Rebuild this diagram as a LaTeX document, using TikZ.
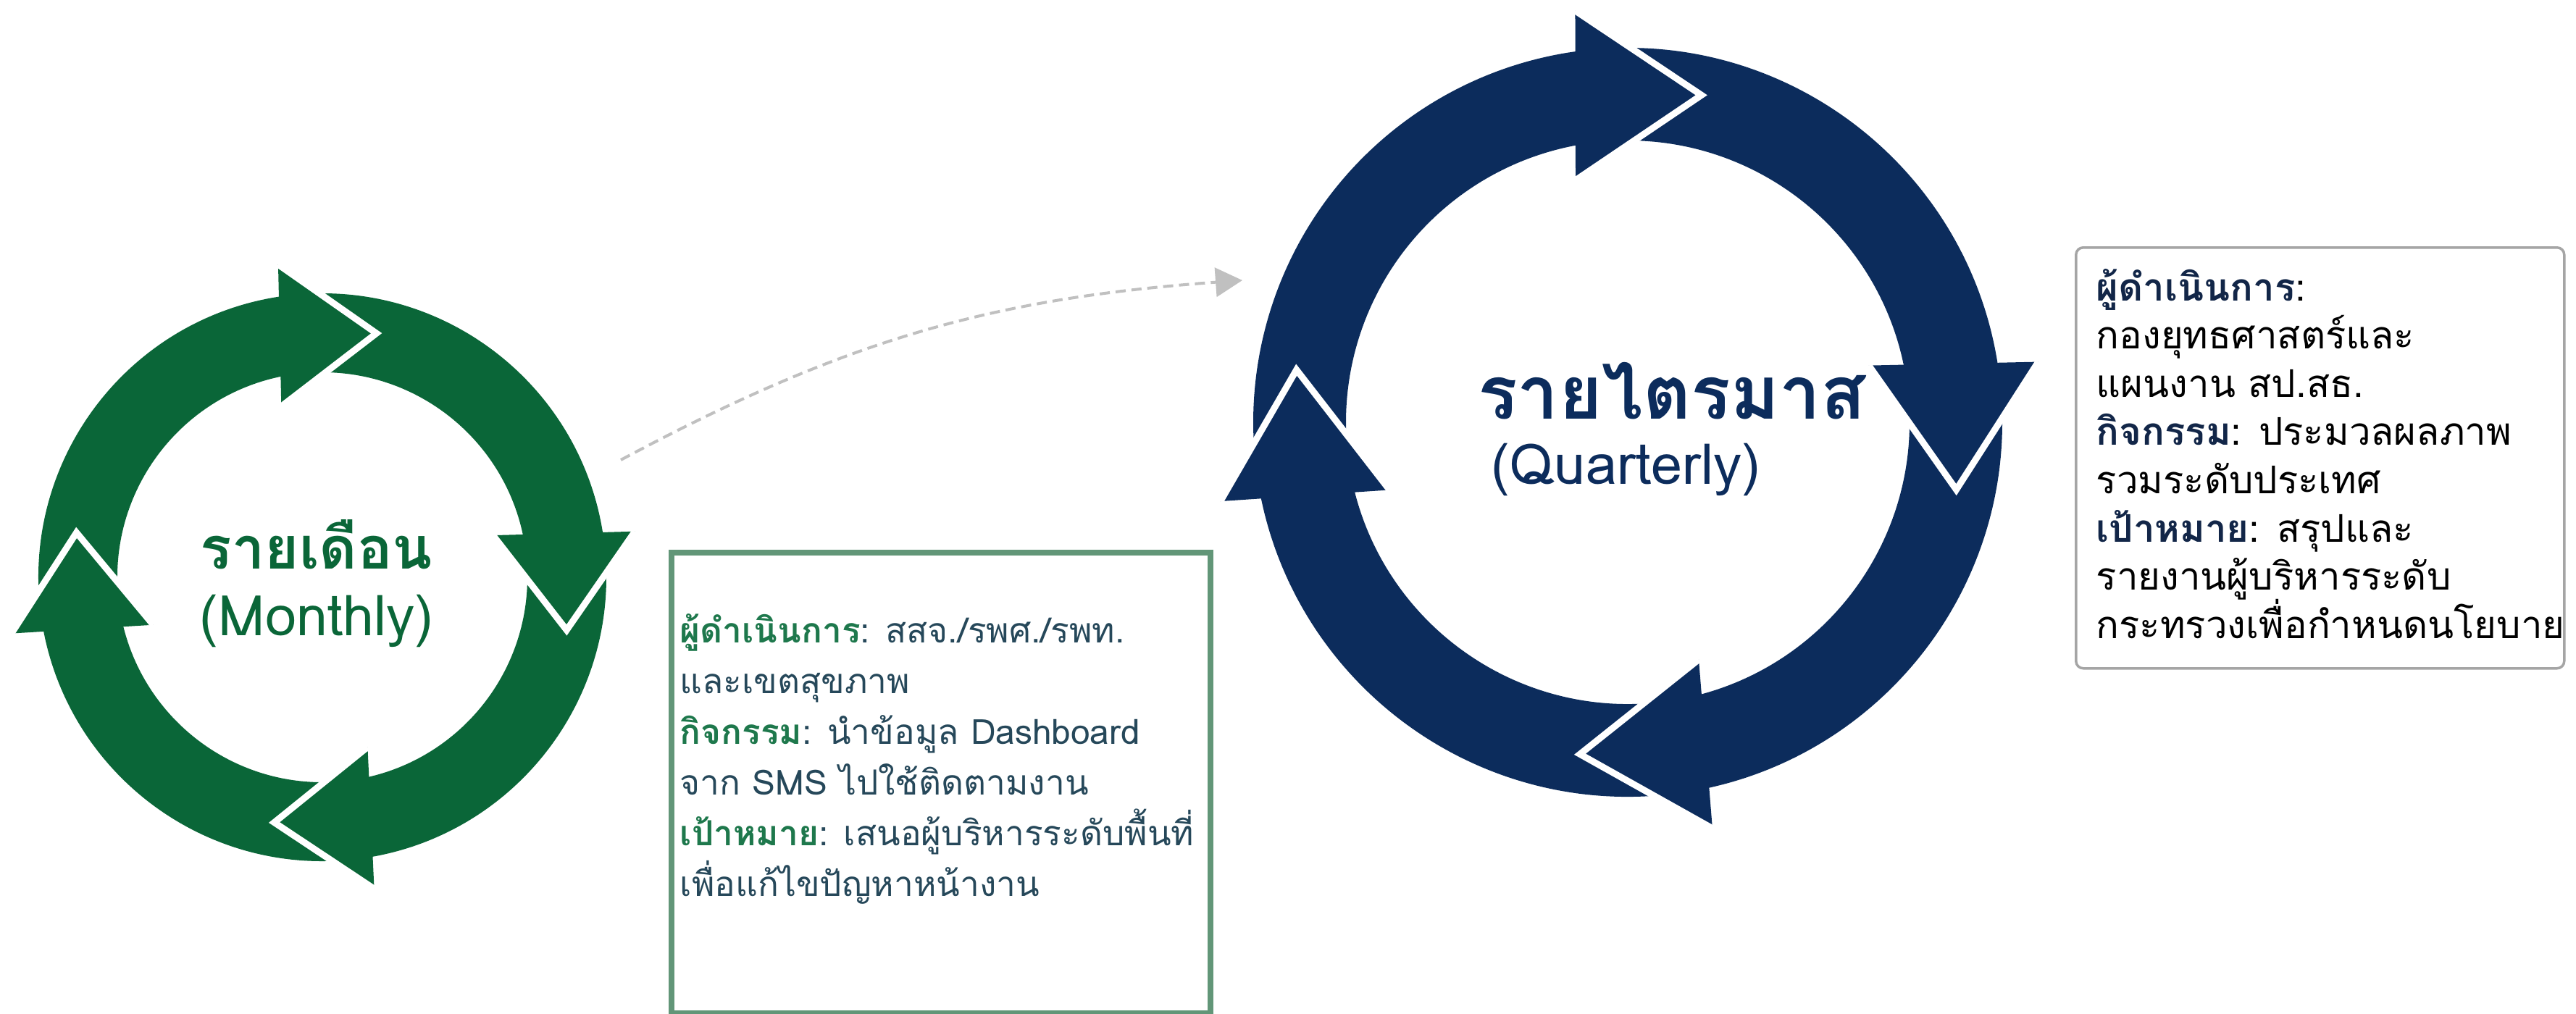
\documentclass[tikz,border=0pt]{standalone}
\usepackage{fontspec}
\newfontfamily\thaifont[Script=Thai]{Loma}
\usetikzlibrary{calc,positioning,arrows.meta}

\definecolor{monthgreen}{RGB}{10,102,56}
\definecolor{quartblue}{RGB}{12,44,92}
\definecolor{boxgreen}{RGB}{98,150,120}
\definecolor{labelgreen}{RGB}{30,120,76}
\definecolor{bodyslate}{RGB}{38,72,90}
\definecolor{labelnavy}{RGB}{18,38,72}
\definecolor{boxgray}{RGB}{165,165,165}
\definecolor{dashgray}{RGB}{192,192,192}

\tikzset{
  title/.style={font=\thaifont\bfseries\fontsize{23}{27}\selectfont, inner sep=0pt, anchor=base},
  bigtitle/.style={title, font=\thaifont\bfseries\fontsize{29}{33}\selectfont},
  subtitle/.style={font=\thaifont\fontsize{22}{26}\selectfont, inner sep=0pt, anchor=base},
  boxline/.style={font=\thaifont\fontsize{15}{19}\selectfont, inner sep=0pt, anchor=base west},
  smallline/.style={boxline, font=\thaifont\fontsize{13.6}{17}\selectfont},
  gap/.style={draw=white, line width=0.09cm, line join=miter},
}

\begin{document}
\begin{tikzpicture}
\useasboundingbox (0,0) rectangle (35.56,-13.99);

% monthly cycle
\begin{scope}[shift={(4.45,-7.97)}]
  \foreach \t/\s in {77.5/186.7, -12.2/94.5, -101.1/4.8, 169.7/275.9}
    \fill[monthgreen] ({\t+19.5}:3.92) arc[start angle={\t+19.5}, end angle=\s, radius=3.92]
      -- (\s:2.83) arc[start angle=\s, end angle={\t+19.5}, radius=2.83] -- cycle;
  \foreach \t in {77.5, -12.2, -101.1, 169.7} {
    \coordinate (b) at ({\t+22.5}:3.39);
    \coordinate (p) at (\t:3.45);
    \fill[monthgreen] ($(b)!0.98cm!90:(p)$) -- (p) -- ($(b)!0.98cm!-90:(p)$) -- cycle;
    \draw[gap] ($(b)!0.98cm!90:(p)$) -- (p) -- ($(b)!0.98cm!-90:(p)$);
  }
\end{scope}
\node[title, text=monthgreen] (monthtitle) at (4.37,-7.85) {รายเดือน};
\node[subtitle, text=monthgreen] (monthsub) at (4.37,-8.77) {(Monthly)};

% quarterly cycle
\begin{scope}[shift={(22.47,-5.83)}]
  \foreach \t/\s in {77.3/188, -11.6/94.3, -98.2/5.4, 171/278.8}
    \fill[quartblue] ({\t+18.8}:5.17) arc[start angle={\t+18.8}, end angle=\s, radius=5.17]
      -- (\s:3.89) arc[start angle=\s, end angle={\t+18.8}, radius=3.89] -- cycle;
  \foreach \t in {77.3, -11.6, -98.2, 171} {
    \coordinate (b) at ({\t+21.8}:4.57);
    \coordinate (p) at (\t:4.63);
    \fill[quartblue] ($(b)!1.17cm!90:(p)$) -- (p) -- ($(b)!1.17cm!-90:(p)$) -- cycle;
    \draw[gap] ($(b)!1.17cm!90:(p)$) -- (p) -- ($(b)!1.17cm!-90:(p)$);
  }
\end{scope}
\node[bigtitle, text=quartblue] (quarttitle) at (23.08,-5.78) {รายไตรมาส};
\node[subtitle, text=quartblue] (quartsub) at (22.44,-6.68) {(Quarterly)};

% link between the cycles
\coordinate (dashfrom) at (8.57,-6.35);
\coordinate (dashto) at (17.15,-3.87);
\draw[dashgray, line width=0.04cm, dash pattern=on 0.14cm off 0.08cm,
  -{Triangle[length=0.37cm, width=0.40cm]}] (dashfrom) to[bend left=12] (dashto);

% monthly box
\node[draw=boxgreen, line width=0.08cm, minimum width=7.44cm, minimum height=6.36cm,
  anchor=north west, inner sep=0pt] (monthbox) at (9.23,-7.59) {};
\node[smallline, text=bodyslate] (m1) at (9.38,-8.87) {{\bfseries\color{labelgreen}ผู้ดำเนินการ}: สสจ./รพศ./รพท.};
\node[smallline, text=bodyslate] (m2) at ([yshift=-0.70cm]m1.base west) {และเขตสุขภาพ};
\node[smallline, text=bodyslate] (m3) at ([yshift=-0.70cm]m2.base west) {{\bfseries\color{labelgreen}กิจกรรม}: นำข้อมูล Dashboard};
\node[smallline, text=bodyslate] (m4) at ([yshift=-0.70cm]m3.base west) {จาก SMS ไปใช้ติดตามงาน};
\node[smallline, text=bodyslate] (m5) at ([yshift=-0.70cm]m4.base west) {{\bfseries\color{labelgreen}เป้าหมาย}: เสนอผู้บริหารระดับพื้นที่};
\node[smallline, text=bodyslate] (m6) at ([yshift=-0.70cm]m5.base west) {เพื่อแก้ไขปัญหาหน้างาน};

% quarterly box
\node[draw=boxgray, line width=0.035cm, rounded corners=0.1cm, minimum width=6.74cm,
  minimum height=5.81cm, anchor=north west, inner sep=0pt] (quartbox) at (28.64,-3.40) {};
\node[boxline] (q1) at (28.93,-4.15) {{\bfseries\color{labelnavy}ผู้ดำเนินการ}:};
\node[boxline] (q2) at ([yshift=-0.666cm]q1.base west) {กองยุทธศาสตร์และ};
\node[boxline] (q3) at ([yshift=-0.666cm]q2.base west) {แผนงาน สป.สธ.};
\node[boxline] (q4) at ([yshift=-0.666cm]q3.base west) {{\bfseries\color{labelnavy}กิจกรรม}: ประมวลผลภาพ};
\node[boxline] (q5) at ([yshift=-0.666cm]q4.base west) {รวมระดับประเทศ};
\node[boxline] (q6) at ([yshift=-0.666cm]q5.base west) {{\bfseries\color{labelnavy}เป้าหมาย}: สรุปและ};
\node[boxline] (q7) at ([yshift=-0.666cm]q6.base west) {รายงานผู้บริหารระดับ};
\node[boxline] (q8) at ([yshift=-0.666cm]q7.base west) {กระทรวงเพื่อกำหนดนโยบาย};
\end{tikzpicture}
\end{document}
